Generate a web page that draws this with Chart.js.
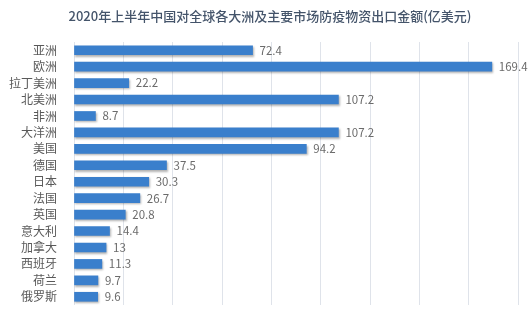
<!DOCTYPE html>
<html>
<head>
<meta charset="utf-8">
<script src="https://cdn.jsdelivr.net/npm/chart.js@4"></script>
<style>
  html, body { margin: 0; padding: 0; background: #fff; }
  #wrap { width: 529px; height: 322px; }
</style>
</head>
<body>
<div id="wrap"><canvas id="chart"></canvas></div>
<script>
const categories = ["亚洲", "欧洲", "拉丁美洲", "北美洲", "非洲", "大洋洲", "美国", "德国", "日本", "法国", "英国", "意大利", "加拿大", "西班牙", "荷兰", "俄罗斯"];
const values = [72.4, 169.4, 22.2, 107.2, 8.7, 107.2, 94.2, 37.5, 30.3, 26.7, 20.8, 14.4, 13, 11.3, 9.7, 9.6];
const titleText = "2020年上半年中国对全球各大洲及主要市场防疫物资出口金额(亿美元)";

const fontFam = "'Noto Sans CJK SC', 'Noto Sans', sans-serif";

// titulo (desenhado à mão pra ficar centrado como no original)
const topTitle = {
  id: "topTitle",
  afterDraw(chart) {
    const ctx = chart.ctx;
    ctx.save();
    ctx.font = "500 13px " + fontFam;
    ctx.fillStyle = "#44546a";
    ctx.textAlign = "center";
    ctx.textBaseline = "middle";
    ctx.fillText(titleText, 270, 16);
    ctx.restore();
  }
};

// etiquetas de valor
const valueLabels = {
  id: "valueLabels",
  afterDatasetsDraw(chart) {
    const ctx = chart.ctx;
    const meta = chart.getDatasetMeta(0);
    ctx.save();
    ctx.font = "11.5px " + fontFam;
    ctx.fillStyle = "#6b6b6b";
    ctx.textAlign = "left";
    ctx.textBaseline = "middle";
    meta.data.forEach((bar, i) => {
      ctx.fillText(String(values[i]), bar.x + 7, bar.y);
    });
    ctx.restore();
  }
};

// sombra das barras
const barShadow = {
  id: "barShadow",
  beforeDatasetsDraw(chart) {
    chart.ctx.save();
    chart.ctx.shadowColor = "rgba(0,0,0,0.3)";
    chart.ctx.shadowBlur = 2;
    chart.ctx.shadowOffsetX = 1;
    chart.ctx.shadowOffsetY = 1.5;
  },
  afterDatasetsDraw(chart) {
    chart.ctx.restore();
  }
};

function barGrad(c) {
  const el = c.element;
  if (!el || el.y === undefined) return "#3a7fcc";
  const g = c.chart.ctx.createLinearGradient(0, el.y - 5, 0, el.y + 5);
  g.addColorStop(0, "#5a9be0");
  g.addColorStop(0.5, "#3b80cc");
  g.addColorStop(1, "#2a66ab");
  return g;
}

new Chart(document.getElementById("chart"), {
  type: "bar",
  data: {
    labels: categories,
    datasets: [{
      data: values,
      backgroundColor: barGrad,
      barThickness: 9
    }]
  },
  plugins: [barShadow, valueLabels, topTitle],
  options: {
    indexAxis: "y",
    responsive: true,
    maintainAspectRatio: false,
    animation: false,
    layout: { padding: { left: 0, right: 11, top: 42, bottom: 17 } },
    plugins: {
      legend: { display: false },
      tooltip: { enabled: false },
      title: { display: false }
    },
    scales: {
      x: {
        min: 0,
        max: 180,
        ticks: { display: false, stepSize: 20 },
        grid: { color: "#dfe3ea", drawTicks: false },
        border: { display: false }
      },
      y: {
        grid: { display: false },
        border: { display: false },
        ticks: { color: "#595959", font: { family: fontFam, size: 12 }, padding: 9, autoSkip: false },
        afterFit(s) { s.width = 74; }
      }
    }
  }
});
</script>
</body>
</html>
